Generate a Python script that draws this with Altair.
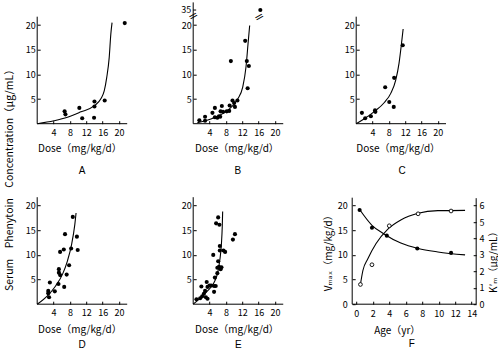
import altair as alt
import pandas as pd

FONT = "Noto Sans CJK JP, DejaVu Sans"
LFONT = "Liberation Sans"
TICK = 3

# ---------------- data ----------------
a_dose = [6.7, 6.9, 10.3, 11.0, 13.9, 14.0, 14.0, 16.5, 21.4]
a_conc = [2.5, 1.9, 3.2, 1.1, 1.2, 4.5, 3.5, 4.7, 20.4]
a_fit_dose = [0, 4.1, 7.4, 10.7, 13.9, 15.6, 16.4, 17.0, 17.6, 18.0, 18.3]
a_fit_conc = [0, 0.6, 1.3, 2.4, 3.6, 5.1, 6.7, 9.4, 13.4, 18.2, 20.5]

# Panel B (the 35 value sits above the axis break)
b_dose = [1.5, 2.9, 2.9, 4.7, 5.3, 5.3, 5.9, 6.3, 6.6, 6.7, 7.0, 7.3, 8.2, 8.8,
          8.9, 9.2, 9.6, 10.0, 10.2, 10.8, 12.7, 13.1, 13.6, 13.3, 16.4]
b_conc = [0.7, 1.4, 0.6, 2.2, 3.2, 1.3, 1.2, 1.5, 1.4, 2.5, 3.6, 2.4, 2.5, 2.6,
          3.7, 12.7, 4.7, 4.2, 3.4, 4.7, 16.8, 12.7, 11.7, 7.2, 35]
b_fit_dose = [1.0, 5.1, 8.4, 10.8, 12.1, 12.9, 13.4, 13.8]
b_fit_conc = [0.2, 1.2, 2.7, 4.9, 7.4, 11.5, 16.2, 19.9]
b_break_dose = [0, 16.1]
b_break_conc = [21.9, 21.7]
b_break_label = "35"
b_break_level = 23.05   # axis position used for 35 above the break

c_dose = [1.4, 2.2, 3.6, 4.6, 4.7, 7.1, 8.1, 9.3, 9.2, 11.4]
c_conc = [2.2, 1.1, 1.5, 2.7, 2.4, 7.4, 4.4, 9.3, 3.4, 15.9]
c_fit_dose = [0, 2.0, 4.5, 6.9, 8.5, 9.7, 10.5, 11.2, 11.5]
c_fit_conc = [0, 1.0, 2.5, 4.3, 6.2, 8.9, 12.3, 17.0, 19.2]

d_dose = [2.7, 2.7, 2.9, 3.1, 4.3, 5.2, 5.3, 5.3, 5.6, 5.6, 6.5, 6.6, 6.8, 7.2,
          7.8, 8.3, 8.7, 9.7, 9.9]
d_conc = [2.7, 2.2, 1.4, 4.4, 2.6, 4.1, 7.1, 6.4, 10.6, 5.9, 11.1, 3.5, 14.2, 6.0,
          7.9, 11.3, 17.7, 13.7, 11.0]
d_fit_dose = [0, 2.5, 4.5, 6.2, 7.4, 8.4, 9.2, 9.5]
d_fit_conc = [0, 1.7, 3.7, 6.1, 8.8, 12.1, 16.2, 18.5]

e_dose = [0.8, 1.7, 2.0, 2.2, 2.6, 2.9, 3.1, 3.3, 3.5, 3.5, 4.0, 4.4, 4.9, 5.1,
          5.1, 5.3, 5.5, 5.6, 5.9, 5.9, 6.1, 6.1, 6.3, 6.4, 6.5, 6.5, 6.7, 6.9,
          7.4, 7.8, 9.7, 10.2]
e_conc = [1.0, 1.2, 3.6, 1.6, 2.1, 2.7, 1.4, 4.5, 3.5, 1.1, 3.8, 3.8, 10.0, 2.5,
          3.7, 5.4, 3.7, 16.4, 7.4, 6.3, 17.6, 8.7, 7.6, 16.1, 10.9, 11.8, 7.1, 7.5,
          10.9, 10.6, 13.1, 14.2]
e_fit_dose = [0, 1.8, 3.5, 5.1, 5.9, 6.5, 6.9, 7.1, 7.2]
e_fit_conc = [0, 1.3, 2.7, 4.4, 6.1, 8.9, 12.3, 15.7, 18.8]

f_age_v = [0.4, 1.9, 3.7, 7.4, 11.5]
f_vmax = [19.1, 15.5, 13.9, 11.3, 10.4]
f_age_k = [0.5, 1.9, 4.0, 7.5, 11.5]
f_km = [1.2, 2.4, 4.77, 5.5, 5.67]
f_fit_age_v = [0.4, 1.9, 3.4, 5.4, 7.5, 9.9, 13.2]
f_fit_vmax = [19.2, 16.0, 14.2, 12.4, 11.3, 10.6, 10.0]
f_fit_age_k = [0.5, 0.8, 1.4, 2.4, 3.8, 5.4, 7.5, 9.9, 13.2]
f_fit_km = [1.2, 2.05, 2.76, 3.69, 4.55, 5.12, 5.53, 5.69, 5.71]

dose_ticks = [4, 8, 12, 16, 20]
conc_ticks = [5, 10, 15, 20]
age_ticks = [0, 2, 4, 6, 8, 10, 12, 14]
vmax_ticks = [0, 5, 10, 15, 20]
km_ticks = [0, 1, 2, 3, 4, 5, 6]

Y_TITLE = "Serum\u2003Phenytoin\u2003Concentration（μg/mL）"


def sc(lo, hi):
    return alt.Scale(domain=[lo, hi], nice=False, zero=False)


def one():
    return alt.Data(values=[{"k": 0}])


TITLE_STYLE = dict(titleFont=FONT, titleFontSize=10, titleFontWeight="normal", titleColor="black")
LABEL_STYLE = dict(labelFont=FONT, labelFontSize=9, labelColor="black", labelFlush=False,
                   labelOverlap=False, tickColor="black", tickWidth=1, domain=False, grid=False)


def x_axis(values, title, width, label_pad=4.7, title_y=28.0, title_dx=-2.8):
    return alt.Axis(values=values, title=title, orient="bottom", offset=-TICK, tickSize=TICK,
                    labelPadding=label_pad, titleX=width / 2 + title_dx, titleY=title_y,
                    titleBaseline="middle", titleAlign="center", titleAngle=0,
                    **LABEL_STYLE, **TITLE_STYLE)


def text_axis(orient, title, tx, ty, angle=0, size=10, font=FONT):
    return alt.Axis(orient=orient, offset=-TICK, labels=False, ticks=False, domain=False, grid=False,
                    title=title, titleX=tx, titleY=ty, titleAngle=angle, titleAlign="center",
                    titleBaseline="middle", titleFont=font, titleFontSize=size,
                    titleFontWeight="normal", titleColor="black")


def y_axis(values, shift=0, label_pad=2, orient="left", title=None, **kw):
    args = dict(values=values, orient=orient, offset=-(TICK + shift), tickSize=TICK,
                labelPadding=label_pad, **LABEL_STYLE)
    if title is None:
        args["title"] = None
    else:
        args.update(title=title, **TITLE_STYLE, **kw)
    return alt.Axis(**args)


def rule_h(xs, ys, x0, x1, y0):
    return alt.Chart(one()).mark_rule(color="black", strokeWidth=1).encode(
        x=alt.X(datum=x0, type="quantitative", scale=xs, axis=None),
        x2=alt.X2(datum=x1),
        y=alt.Y(datum=y0, type="quantitative", scale=ys, axis=None))


def rule_v(xs, ys, x0, y0, y1):
    return alt.Chart(one()).mark_rule(color="black", strokeWidth=1).encode(
        x=alt.X(datum=x0, type="quantitative", scale=xs, axis=None),
        y=alt.Y(datum=y0, type="quantitative", scale=ys, axis=None),
        y2=alt.Y2(datum=y1))


def dose_panel(px, py, fx, fy, xdom, width, height, letter, letter_y, letter_dx,
               title_y=28.0, title_dx=-2.8, ytop=21.7, shift=0, broken=False, big_title=False):
    xs = sc(*xdom)
    ys = sc(0, 21.7)
    pts = pd.DataFrame({"dose": px, "conc": py})
    fit = pd.DataFrame({"dose": fx, "conc": fy})
    p = alt.Chart(pts)
    yfield = "conc:Q"
    if broken:
        p = p.transform_calculate(yplot=f"datum.conc > 21 ? {b_break_level} : datum.conc")
        yfield = "yplot:Q"
    layers = [
        p.mark_circle(size=17, color="black", opacity=1).encode(
            x=alt.X("dose:Q", scale=xs,
                    axis=x_axis(dose_ticks, "Dose（mg/kg/d）", width, title_y=title_y,
                                title_dx=title_dx)),
            y=alt.Y(yfield, scale=ys, axis=y_axis(conc_ticks, shift=shift)))
    ]
    layers.append(rule_h(xs, ys, 0, 22, 0))
    layers.append(rule_v(xs, ys, 0, 0, ytop))
    line_y_axis = None
    if big_title:
        line_y_axis = text_axis("left", Y_TITLE, -31, 160.5, angle=270, size=10.5)
    layers.append(
        alt.Chart(fit).mark_line(color="black", strokeWidth=1.1, interpolate="monotone").encode(
            x=alt.X("dose:Q", scale=xs,
                    axis=text_axis("bottom", letter, width / 2 + letter_dx, letter_y, font=LFONT)),
            y=alt.Y("conc:Q", scale=ys, axis=line_y_axis)))
    if broken:
        bd = pd.DataFrame({"dose": b_break_dose, "conc": b_break_conc})
        layers.append(
            alt.Chart(bd).mark_text(text="=", angle=330, fontSize=12, font="DejaVu Sans",
                                    color="black").encode(
                x=alt.X("dose:Q", scale=xs, axis=None),
                y=alt.Y("conc:Q", scale=ys, axis=None)))
        # label and tick of the 35 level above the break
        layers.append(
            alt.Chart(one()).mark_text(text=b_break_label, align="right", baseline="middle",
                                       dx=-2, font=FONT, fontSize=9, color="black").encode(
                x=alt.X(datum=0, type="quantitative", scale=xs, axis=None),
                y=alt.Y(datum=b_break_level, type="quantitative", scale=ys, axis=None)))
        layers.append(rule_h(xs, ys, 0, 0.73, b_break_level))
    return alt.layer(*layers).resolve_scale(x="independent", y="independent").properties(
        width=width, height=height)


RH = 107
A = dose_panel(a_dose, a_conc, a_fit_dose, a_fit_conc, [0, 22], 90, RH, "A", 50.2, -0.5,
               title_y=27.7, big_title=True)
B = dose_panel(b_dose, b_conc, b_fit_dose, b_fit_conc, [0, 22.6], 92.5, RH, "B", 50.2, -2,
               title_y=27.7, title_dx=-3, ytop=24.6, broken=True)
C = dose_panel(c_dose, c_conc, c_fit_dose, c_fit_conc, [-0.98, 21.8], 93, RH, "C", 50.2, 3,
               title_y=27.7, title_dx=-1, shift=4)
D = dose_panel(d_dose, d_conc, d_fit_dose, d_fit_conc, [0, 22], 90, RH, "D", 43.2, -0.5,
               title_y=28.5)
E = dose_panel(e_dose, e_conc, e_fit_dose, e_fit_conc, [0, 22.6], 92.5, RH, "E", 43.2, -1.5,
               title_y=28.5, title_dx=-3)

# Panel F (dual axis)
FW = 124
fxs = sc(-0.5, 14.55)
fyv = sc(0, 21.7)
fyk = sc(0, 6.51)
fv = pd.DataFrame({"age": f_age_v, "v": f_vmax})
fk = pd.DataFrame({"age": f_age_k, "k": f_km})
fvf = pd.DataFrame({"age": f_fit_age_v, "v": f_fit_vmax})
fkf = pd.DataFrame({"age": f_fit_age_k, "k": f_fit_km})

f_layers = [
    alt.Chart(fv).mark_circle(size=17, color="black", opacity=1).encode(
        x=alt.X("age:Q", scale=fxs,
                axis=x_axis(age_ticks, "Age（yr）", FW, label_pad=5.5, title_y=29.5, title_dx=-17.5)),
        y=alt.Y("v:Q", scale=fyv,
                axis=y_axis(vmax_ticks, label_pad=5, title="Vₘₐₓ（mg/kg/d）", titleX=-27, titleY=53,
                            titleAngle=270, titleAlign="center", titleBaseline="middle"))),
    rule_h(fxs, fyv, -0.5, 14.55, 0),
    rule_v(fxs, fyv, -0.5, 0, 21.6),
    rule_v(fxs, fyk, 14.55, 0, 6.45),
    alt.Chart(fvf).mark_line(color="black", strokeWidth=1.1, interpolate="monotone").encode(
        x=alt.X("age:Q", scale=fxs, axis=text_axis("bottom", "F", FW / 2 - 3, 42.0, font=LFONT)),
        y=alt.Y("v:Q", scale=fyv, axis=None)),
    alt.Chart(fkf).mark_line(color="black", strokeWidth=1.1, interpolate="monotone").encode(
        x=alt.X("age:Q", scale=fxs, axis=None), y=alt.Y("k:Q", scale=fyk, axis=None)),
    alt.Chart(fk).mark_point(shape="circle", size=14, filled=True, fill="white",
                             stroke="black", strokeWidth=0.9, opacity=1).encode(
        x=alt.X("age:Q", scale=fxs, axis=None),
        y=alt.Y("k:Q", scale=fyk,
                axis=y_axis(km_ticks, orient="right", label_pad=2.7, title="K′ₘ（μg/mL）", titleX=20,
                            titleY=62, titleAngle=270, titleAlign="center", titleBaseline="middle"))),
]
F = alt.layer(*f_layers).resolve_scale(x="independent", y="independent").properties(
    width=FW, height=RH)

chart = alt.concat(A, B, C, D, E, F, columns=3, spacing={"row": 73.5, "column": 66},
                   bounds="flush", align="each").properties(
    padding={"left": 3.2, "top": 1.7, "right": 0, "bottom": 0}
).configure_view(stroke=None)

chart.save("out.html", embed_options={"renderer": "svg", "actions": False})
